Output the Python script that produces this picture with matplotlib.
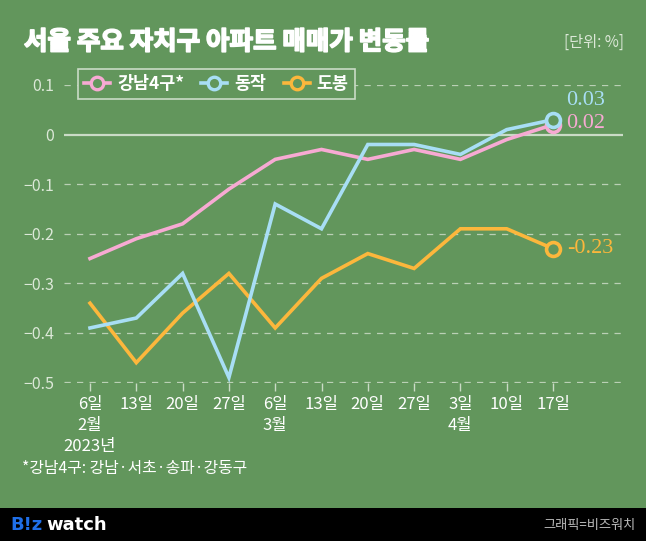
import matplotlib
matplotlib.use("Agg")
import matplotlib.pyplot as plt
import matplotlib.patheffects as pe
from matplotlib.lines import Line2D
from matplotlib.patches import Rectangle

plt.rcParams['font.family'] = ['Noto Sans CJK KR', 'DejaVu Sans']

# ---- data ----
x_labels = ['6일\n2월\n2023년', '13일', '20일', '27일', '6일\n3월', '13일', '20일', '27일', '3일\n4월', '10일', '17일']
series_names = ['강남4구*', '동작', '도봉']
gangnam = [-0.25, -0.21, -0.18, -0.11, -0.05, -0.03, -0.05, -0.03, -0.05, -0.01, 0.02]
dongjak = [-0.39, -0.37, -0.28, -0.49, -0.14, -0.19, -0.02, -0.02, -0.04, 0.01, 0.03]
dobong = [-0.34, -0.46, -0.36, -0.28, -0.39, -0.29, -0.24, -0.27, -0.19, -0.19, -0.23]
y_ticks = [-0.5, -0.4, -0.3, -0.2, -0.1, 0, 0.1]
y_tick_labels = ['−0.5', '−0.4', '−0.3', '−0.2', '−0.1', '0', '0.1']

title = '서울 주요 자치구 아파트 매매가 변동률'
unit = '[단위: %]'
footnote = '*강남4구: 강남·서초·송파·강동구'
credit = '그래픽=비즈워치'

BG = '#62965C'
PINK = '#F7AAD3'
BLUE = '#A8DEF5'
ORANGE = '#FCB73C'
GRID = '#CADBC6'
TXT = '#DCE8D8'

W, H = 646, 541
fig = plt.figure(figsize=(W / 100, H / 100), dpi=100, facecolor=BG)

# axes position in pixels
x_left, x_right = 64, 623
y_top_px, y_bot_px = 85, 382.5  # 0.1 and -0.5
ax = fig.add_axes([x_left / W, 1 - y_bot_px / H, (x_right - x_left) / W, (y_bot_px - y_top_px) / H])
ax.set_facecolor(BG)
for s in ax.spines.values():
    s.set_visible(False)

n = len(gangnam)
xs = list(range(n))
sp = (553 - 90) / (n - 1)
ax.set_xlim((x_left - 90) / sp, (x_right - 90) / sp)
ax.set_ylim(-0.5, 0.1)

# grid
for yv in y_ticks:
    if yv == 0:
        ax.axhline(yv, color=GRID, lw=1.6, zorder=1)
    else:
        ax.axhline(yv, color=GRID, lw=0.9, ls=(0, (5, 5)), alpha=0.85, zorder=1)

ax.set_yticks(y_ticks)
ax.set_yticklabels(y_tick_labels)
ax.tick_params(axis='y', length=0, pad=7, labelsize=11.5, labelcolor=TXT)
ax.set_xticks(xs)
ax.set_xticklabels(x_labels, linespacing=1.3)
ax.tick_params(axis='x', length=5.5, width=1, color=GRID, pad=4.5, labelsize=12, labelcolor='white')

lw = 2.6
data = [(gangnam, PINK, series_names[0]), (dobong, ORANGE, series_names[2]), (dongjak, BLUE, series_names[1])]
for vals, col, name in data:
    ax.plot(xs, vals, color=col, lw=lw, zorder=3, clip_on=False, solid_joinstyle='miter')
    ax.plot(xs[-1], vals[-1], 'o', ms=10, mfc=BG, mec=col, mew=2.6, zorder=4, clip_on=False)

# end labels
end_offsets = {series_names[0]: (13, 1), series_names[1]: (13, 19), series_names[2]: (14, 0)}
for vals, col, name in data:
    v = vals[-1]
    txt = f'{v:.2f}'
    dx, dy = end_offsets[name]
    ax.annotate(txt, (xs[-1], v), xytext=(dx * 0.72, dy * 0.72), textcoords='offset points',
                ha='left', va='center', color=col, fontsize=16,
                family=['Liberation Serif', 'DejaVu Serif'], annotation_clip=False)

# legend
handles = [Line2D([], [], color=c, lw=lw, marker='o', ms=9, mfc=BG, mec=c, mew=2.4)
           for c in (PINK, BLUE, ORANGE)]
leg = fig.legend(handles, series_names, loc='upper left',
                 bbox_to_anchor=(78 / W, 1 - 69 / H), ncol=3, frameon=True, fancybox=False,
                 facecolor=BG, edgecolor=GRID, framealpha=1,
                 prop={'size': 12.5, 'weight': 'bold'},
                 handlelength=1.5, handletextpad=0.4, columnspacing=1.0,
                 borderpad=0.35, borderaxespad=0)
leg.get_frame().set_linewidth(1.2)
for t in leg.get_texts():
    t.set_color('white')

# title & unit
fig.text(24 / W, 1 - 42 / H, title, ha='left', va='center', color='white', fontsize=18.4, fontweight='bold',
         path_effects=[pe.withStroke(linewidth=1.2, foreground='white')])
fig.text(624 / W, 1 - 42 / H, unit, ha='right', va='center', color=TXT, fontsize=11)

# footnote
fig.text(22 / W, 1 - 468 / H, footnote, ha='left', va='center', color='white', fontsize=11.4)

# footer
fig.patches.append(Rectangle((0, 0), 1, 33 / H, transform=fig.transFigure, facecolor='black',
                             edgecolor='none', zorder=0))
t1 = fig.text(10 / W, 1 - 525 / H, 'B!z', ha='left', va='center', color='#1F6FE8', fontsize=13,
              fontweight='bold', family=['DejaVu Sans'])
fig.canvas.draw()
bb = t1.get_window_extent()
fig.text((bb.x1 + 4) / W, 1 - 525 / H, 'watch', ha='left', va='center', color='white', fontsize=13,
         fontweight='bold', family=['DejaVu Sans'])
fig.text(636 / W, 1 - 525 / H, credit, ha='right', va='center', color='#BBBBBB', fontsize=9.5)

fig.savefig('out.png', dpi=100, facecolor=BG)
